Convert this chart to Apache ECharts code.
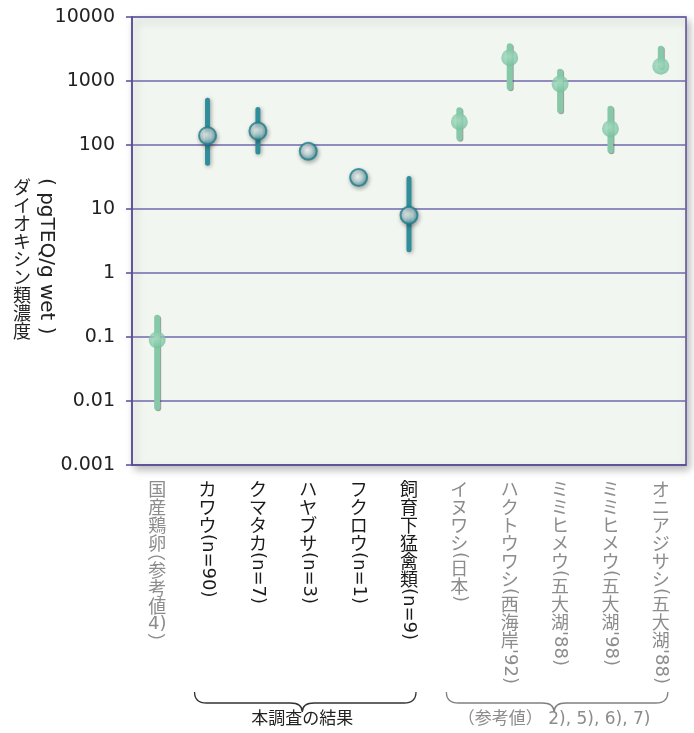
<!DOCTYPE html>
<html>
<head>
<meta charset="utf-8">
<script src="https://cdn.jsdelivr.net/npm/echarts@6/dist/echarts.min.js"></script>
<style>
  html, body { margin: 0; padding: 0; background: #ffffff; }
  #chart { width: 694px; height: 733px; }
</style>
</head>
<body>
<div id="chart"></div>
<script>
// Dioxin concentrations (pgTEQ/g wet): survey results vs. reference values
const categories = [
  '国産鶏卵（参考値 4)）',
  'カワウ(n=90)',
  'クマタカ(n=7)',
  'ハヤブサ(n=3)',
  'フクロウ(n=1)',
  '飼育下猛禽類(n=9)',
  'イヌワシ(日本)',
  "ハクトウワシ(西海岸'92)",
  "ミミヒメウ(五大湖'88)",
  "ミミヒメウ(五大湖'98)",
  "オニアジサシ(五大湖'88)"
];
const centers = [0.09, 140, 165, 80, 31, 8, 230, 2300, 900, 180, 1700];
const lows    = [0.008, 52, 78, null, null, 2.3, 130, 800, 350, 83, 1700];
const highs   = [0.2, 500, 360, null, null, 30, 350, 3500, 1400, 370, 3200];
const isStudy = [false, true, true, true, true, true, false, false, false, false, false];
const yTickLabels = ['0.001', '0.01', '0.1', '1', '10', '100', '1000', '10000'];
const yNameMain = 'ダイオキシン類濃度';
const yNameUnit = '( pgTEQ/g wet )';
const braceGroups = [
  { from: 1, to: 5, text: '本調査の結果', study: true },
  { from: 6, to: 10, text: '（参考値） 2), 5), 6), 7)', study: false }
];

// ---- vertical (tategaki) text helpers ----
const CJK_FONT = '18px "Noto Sans CJK JP"';
const LATIN_FONT = '18px "DejaVu Sans"';
const PITCH = 18;
const measureCtx = document.createElement('canvas').getContext('2d');
function textWidth(s, font) { measureCtx.font = font; return measureCtx.measureText(s).width; }

function textEl(s, x, y, rot, align, font, color) {
  return {
    type: 'text', x: x, y: y, rotation: rot, silent: true,
    style: { text: s, font: font, fill: color, align: align, verticalAlign: 'middle',
             textAlign: align, textVerticalAlign: 'middle' }
  };
}
function splitRuns(str) {
  const runs = []; let buf = '';
  for (const ch of str) {
    if (ch.charCodeAt(0) > 0x2e80) {
      if (buf) { runs.push({ latin: true, s: buf }); buf = ''; }
      runs.push({ latin: false, s: ch });
    } else buf += ch;
  }
  if (buf) runs.push({ latin: true, s: buf });
  return runs;
}
// CJK upright, full-width brackets turned (half advance), Latin runs sideways,
// short numerals kept upright
function verticalText(str, cx, top, color, latinFont) {
  const lf = latinFont || LATIN_FONT;
  const els = []; let y = top;
  for (const r of splitRuns(str)) {
    if (!r.latin) {
      if (r.s === '（') {
        els.push(textEl(r.s, cx, y, -Math.PI / 2, 'center', CJK_FONT, color));
        y += PITCH / 2;
      } else if (r.s === '）') {
        els.push(textEl(r.s, cx, y + PITCH / 2, -Math.PI / 2, 'center', CJK_FONT, color));
        y += PITCH / 2;
      } else {
        els.push(textEl(r.s, cx, y + PITCH / 2, 0, 'center', CJK_FONT, color));
        y += PITCH;
      }
    } else {
      const t = r.s.trim();
      if (t.length <= 2 && /\d/.test(t)) {
        els.push(textEl(t, cx, y + PITCH / 2, 0, 'center', lf, color));
        y += PITCH;
      } else {
        els.push(textEl(r.s, cx, y, -Math.PI / 2, 'left', lf, color));
        y += textWidth(r.s, lf);
      }
    }
  }
  return els;
}

// ---- series data built from the arrays above ----
const rangeData = [];
lows.forEach((lo, i) => { if (lo != null && highs[i] != null) rangeData.push([i, lo, highs[i]]); });
const studyPoints = [], refPoints = [];
centers.forEach((v, i) => (isStudy[i] ? studyPoints : refPoints).push([i, v]));

const AXIS_COLOR = '#574d94';
const GRID_LINE = '#7168ad';

const tealMarker = new echarts.graphic.RadialGradient(0.42, 0.42, 0.6, [
  { offset: 0, color: '#ffffff' },
  { offset: 0.45, color: '#c2dadc' },
  { offset: 1, color: '#3f8f99' }
]);
const greenMarker = new echarts.graphic.RadialGradient(0.45, 0.42, 0.6, [
  { offset: 0, color: '#a9dcc3' },
  { offset: 1, color: '#72c09b' }
]);

const chart = echarts.init(document.getElementById('chart'));
chart.setOption({
  animation: false,
  grid: {
    left: 132, right: 8, top: 17, bottom: 268,
    show: true, backgroundColor: '#f1f6f1',
    borderColor: AXIS_COLOR, borderWidth: 1.5,
    shadowColor: 'rgba(0,0,0,0.28)', shadowBlur: 8, shadowOffsetX: 3, shadowOffsetY: 4
  },
  xAxis: {
    type: 'category', data: categories, boundaryGap: true,
    axisLine: { show: true, lineStyle: { color: AXIS_COLOR, width: 1.5 } },
    axisTick: { show: false },
    axisLabel: { show: false },
    splitLine: { show: false }
  },
  yAxis: {
    type: 'log', logBase: 10, min: 0.001, max: 10000,
    axisLine: { show: true, lineStyle: { color: AXIS_COLOR, width: 1.5 } },
    axisTick: { show: true, length: 6, lineStyle: { color: AXIS_COLOR, width: 1.5 } },
    axisLabel: {
      margin: 17, fontFamily: 'DejaVu Sans', fontSize: 19, color: '#222',
      formatter: v => yTickLabels[Math.round(Math.log10(v)) + 3]
    },
    splitLine: { show: true, lineStyle: { color: GRID_LINE, width: 1.5 } }
  },
  graphic: [{
    type: 'group', silent: true,
    children: verticalText(yNameMain, 22, 178, '#222')
      .concat(verticalText(yNameUnit, 46, 178, '#222', '20px "DejaVu Sans"'))
  }],
  series: [
    {
      name: 'range', type: 'custom', z: 2, silent: true,
      data: rangeData, encode: { x: 0, y: [1, 2] },
      renderItem: function (params, api) {
        const i = api.value(0);
        const p1 = api.coord([i, api.value(1)]);
        const p2 = api.coord([i, api.value(2)]);
        const study = isStudy[i];
        return {
          type: 'line',
          shape: { x1: p1[0], y1: p1[1], x2: p2[0], y2: p2[1] },
          style: {
            stroke: study ? '#2f8e9a' : '#86c8a8', lineWidth: study ? 5 : 6, lineCap: 'round',
            shadowBlur: study ? 4 : 0, shadowColor: 'rgba(0,0,0,0.35)', shadowOffsetX: 1, shadowOffsetY: 1
          }
        };
      }
    },
    {
      name: '本調査', type: 'scatter', z: 3, symbolSize: 17, data: studyPoints,
      itemStyle: {
        color: tealMarker, borderColor: '#22808c', borderWidth: 2,
        shadowBlur: 4, shadowColor: 'rgba(0,0,0,0.35)', shadowOffsetX: 1, shadowOffsetY: 2
      }
    },
    {
      name: '参考値', type: 'scatter', z: 3, symbolSize: 17, data: refPoints,
      itemStyle: { color: greenMarker }
    },
    {
      name: 'labels', type: 'custom', silent: true, clip: false,
      data: categories.map((c, i) => [i, 1]), encode: { x: 0, y: 1 },
      renderItem: function (params, api) {
        const i = api.value(0);
        const cs = params.coordSys;
        const x = api.coord([i, 1])[0];
        const top = cs.y + cs.height + 15;
        return { type: 'group', children: verticalText(categories[i], x, top, isStudy[i] ? '#1a1a1a' : '#8c8c8c') };
      }
    },
    {
      name: 'braces', type: 'custom', silent: true, clip: false,
      data: braceGroups.map(g => [g.from, g.to, 1]), encode: { x: [0, 1], y: 2 },
      renderItem: function (params, api) {
        const g = braceGroups[params.dataIndex];
        const cs = params.coordSys;
        const b = cs.y + cs.height;
        const x1 = api.coord([api.value(0), 1])[0] - 13;
        const x2 = api.coord([api.value(1), 1])[0] + 7;
        const xm = (x1 + x2) / 2 - 3;
        const yT = b + 227, yM = b + 238, yP = b + 247;
        const color = g.study ? '#333333' : '#808080';
        const d = 'M' + x1 + ' ' + yT + 'Q' + x1 + ' ' + yM + ' ' + (x1 + 12) + ' ' + yM +
                  'L' + (xm - 12) + ' ' + yM + 'Q' + xm + ' ' + yM + ' ' + xm + ' ' + yP +
                  'Q' + xm + ' ' + yM + ' ' + (xm + 12) + ' ' + yM +
                  'L' + (x2 - 12) + ' ' + yM + 'Q' + x2 + ' ' + yM + ' ' + x2 + ' ' + yT;
        return {
          type: 'group',
          children: [
            { type: 'path', shape: { pathData: d }, style: { fill: null, stroke: color, lineWidth: 1.3 } },
            textEl(g.text, xm, b + 255, 0, 'center', '17px "DejaVu Sans", "Noto Sans CJK JP"',
                   g.study ? '#222222' : '#8c8c8c')
          ]
        };
      }
    }
  ]
});
</script>
</body>
</html>
